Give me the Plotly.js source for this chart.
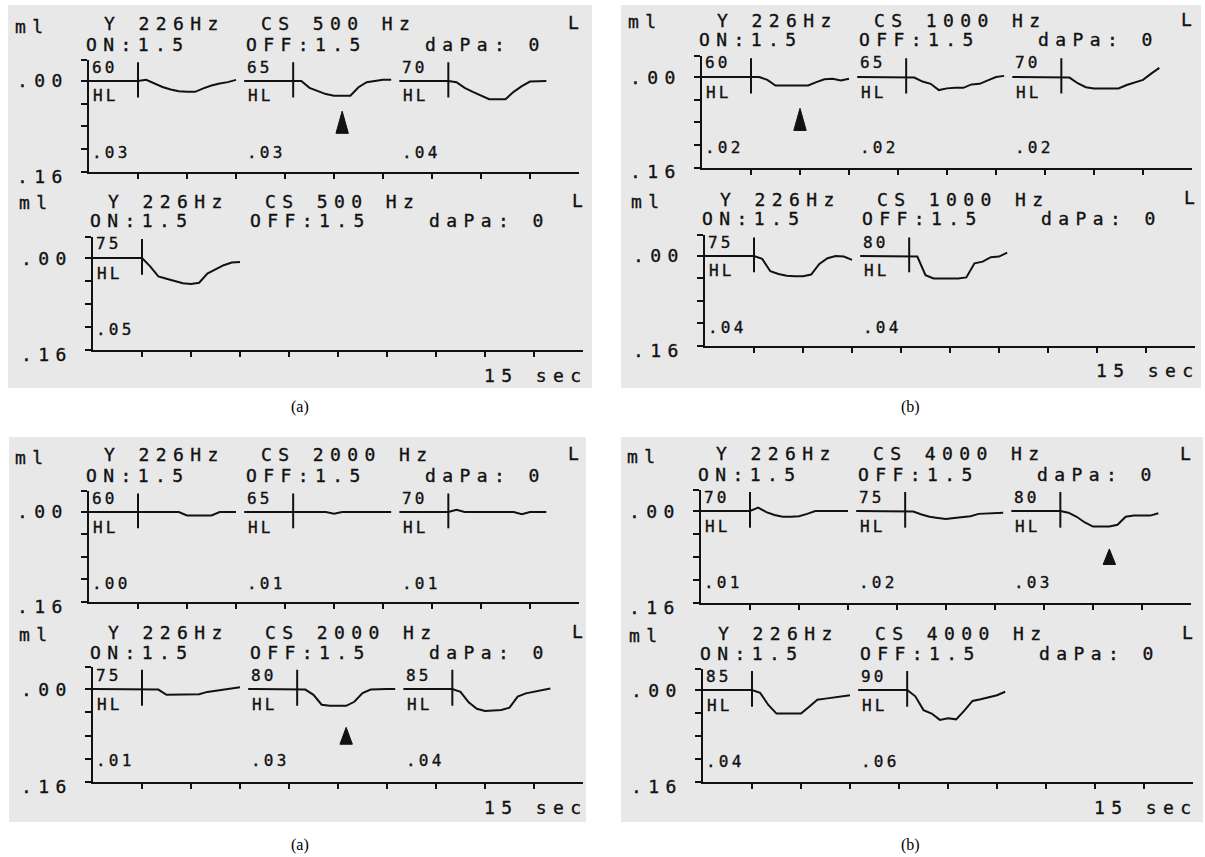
<!DOCTYPE html>
<html><head><meta charset="utf-8">
<script src="https://cdn.plot.ly/plotly-3.0.1.min.js"></script>
<style>
html,body{margin:0;padding:0;background:#fff}
text.annotation-text[style*="Mono"][style*="font-size: 18px"]{letter-spacing:6.4px}
text.annotation-text[style*="Mono"][style*="font-size: 16px"]{letter-spacing:3.2px}
text.annotation-text[style*="Mono"]{stroke:#111;stroke-width:0.35px}
</style>
</head><body><div id="chart" style="width:1205px;height:857px"></div>
<script>
// ================= DATA =================
const tAfterOnset = [0, 0.25, 0.5, 0.75, 1.0, 1.25, 1.5, 1.75, 2.0, 2.25, 2.5, 2.75, 3.0]; // s after stimulus onset
const probeTone = '226Hz';
const onTime = 1.5, offTime = 1.5, pressure = 0, ear = 'L';
const csFreqs = [500, 1000, 2000, 4000];
const panelLabels = ['(a)', '(b)', '(a)', '(b)'];

const levelsUpper = [[60, 65, 70], [60, 65, 70], [60, 65, 70], [70, 75, 80]];
const levelsLower = [[75], [75, 80], [75, 80, 85], [85, 90]];
const peaksUpper = [['.03', '.03', '.04'], ['.02', '.02', '.02'], ['.00', '.01', '.01'], ['.01', '.02', '.03']];
const peaksLower = [['.05'], ['.04', '.04'], ['.01', '.03', '.04'], ['.04', '.06']];

// admittance change (ml, positive = downward deflection) sampled at tAfterOnset
const cs500_60 = [0, -0.002, 0.004, 0.0105, 0.015, 0.018, 0.019, 0.019, 0.013, 0.008, 0.0045, 0.002, -0.002];
const cs500_65 = [0, 0, 0.012, 0.017, 0.023, 0.026, 0.026, 0.026, 0.011, 0.002, 0, -0.002, -0.002];
const cs500_70 = [0, 0.002, 0.012, 0.019, 0.026, 0.032, 0.032, 0.032, 0.019, 0.009, 0.001, 0, 0];
const cs500_75 = [0, 0.0145, 0.032, 0.036, 0.040, 0.044, 0.045, 0.043, 0.027, 0.019, 0.0125, 0.008, 0.007];

const cs1000_60 = [0, 0, 0.005, 0.015, 0.015, 0.015, 0.015, 0.015, 0.009, 0.004, 0.003, 0.006, 0.003];
const cs1000_65 = [0, 0.001, 0.008, 0.012, 0.023, 0.020, 0.019, 0.019, 0.013, 0.012, 0.006, 0, -0.002];
const cs1000_70 = [0, 0.001, 0.011, 0.018, 0.020, 0.020, 0.020, 0.020, 0.014, 0.010, 0.005, -0.006, -0.016];
const cs1000_75 = [0, 0.005, 0.027, 0.032, 0.035, 0.036, 0.036, 0.033, 0.014, 0.004, 0, 0.001, 0.007];
const cs1000_80 = [0, 0.001, 0.034, 0.040, 0.040, 0.040, 0.040, 0.038, 0.013, 0.010, 0.002, 0.001, -0.006];

const cs2000_60 = [0, 0, 0, 0, 0, 0, 0.006, 0.006, 0.006, 0.006, 0, 0, 0];
const cs2000_65 = [0, 0, 0, 0, 0, 0.003, 0, 0, 0, 0, 0, 0, 0];
const cs2000_70 = [0, -0.004, 0, 0, 0, 0, 0, 0, 0, 0.004, 0, 0, 0];
const cs2000_75 = [0, 0, 0.001, 0.010, 0.010, 0.010, 0.010, 0.009, 0.005, 0.003, 0.001, -0.001, -0.003];
const cs2000_80 = [0, 0.001, 0.010, 0.027, 0.029, 0.029, 0.029, 0.022, 0.007, 0.001, 0, 0, 0];
const cs2000_85 = [0, 0.005, 0.023, 0.034, 0.038, 0.037, 0.036, 0.032, 0.013, 0.0075, 0.0046, 0.002, -0.001];

const cs4000_70 = [0, -0.006, 0.002, 0.007, 0.010, 0.010, 0.009, 0.005, 0, 0, 0, 0, 0];
const cs4000_75 = [0, 0.001, 0.006, 0.010, 0.012, 0.014, 0.012, 0.011, 0.009, 0.005, 0.004, 0.004, 0.003];
const cs4000_80 = [0, 0.003, 0.010, 0.020, 0.027, 0.027, 0.027, 0.024, 0.010, 0.008, 0.008, 0.008, 0.004];
const cs4000_85 = [0, 0.005, 0.026, 0.041, 0.041, 0.041, 0.041, 0.029, 0.017, 0.015, 0.013, 0.012, 0.009];
const cs4000_90 = [0, 0.011, 0.035, 0.041, 0.052, 0.049, 0.051, 0.036, 0.019, 0.016, 0.013, 0.009, 0.003];

const curvesUpper = [[cs500_60, cs500_65, cs500_70], [cs1000_60, cs1000_65, cs1000_70],
                     [cs2000_60, cs2000_65, cs2000_70], [cs4000_70, cs4000_75, cs4000_80]];
const curvesLower = [[cs500_75], [cs1000_75, cs1000_80], [cs2000_75, cs2000_80, cs2000_85], [cs4000_85, cs4000_90]];

// reflex-threshold arrow: [row, segment]
const thresholdRow = [0, 0, 1, 0];
const thresholdSeg = [1, 0, 1, 2];

const xTickVals = [1.5, 3, 4.5, 6, 7.5, 9, 10.5, 12, 13.5];
const yTickVals = [0, 0.04, 0.08, 0.12, 0.16];

// ================= LAYOUT / STYLE =================
const W = 1205, H = 857;
const X_MAX = 15, PX_PER_SEC = 490 / X_MAX;
const Y_TOP = -0.037, Y_BOT = 0.16;
const SEG_STEP = 4.75;
const MARK_TOP = -0.033, MARK_BOT = 0.029;
const ARROW_HALF = 0.19;
const arrowTip = [0.053, 0.055, 0.066, 0.066], arrowBase = [0.092, 0.094, 0.095, 0.093];
const INK = '#111111', PAPER = '#e8e8e8';
const MONO = 'DejaVu Sans Mono', BIG = 18, SMALL = 16;

const panelBox = [[8, 5, 592, 388], [621, 5, 1201, 388], [9, 437, 586, 822], [621, 437, 1203, 822]];
// [axis x px, zero-line y px, .16-line y px]
const subGeom = [[[89, 81, 172], [93, 258, 350]], [[702, 77, 168], [705, 256, 346]],
                 [[89, 512, 602], [93, 689, 782]], [[701, 511, 603], [703, 690, 782]]];
const labelPos = [[300, 407], [910, 407], [300, 845], [910, 845]];

const data = [], annotations = [], shapes = [];
const layout = {width: W, height: H, margin: {l: 0, r: 0, t: 0, b: 0}, paper_bgcolor: '#fff',
  plot_bgcolor: 'rgba(0,0,0,0)', showlegend: false, annotations, shapes, hovermode: false};

function txt(px, py, text, size) {
  annotations.push({xref: 'paper', yref: 'paper', x: (px - 2) / W, y: 1 - py / H, text: text,
    showarrow: false, xanchor: 'left', yanchor: 'middle', align: 'left',
    font: {family: MONO, size: size, color: INK}});
}

panelBox.forEach(b => shapes.push({type: 'rect', xref: 'paper', yref: 'paper', layer: 'below',
  x0: b[0] / W, x1: b[2] / W, y0: 1 - b[3] / H, y1: 1 - b[1] / H, fillcolor: PAPER, line: {width: 0}}));

for (let p = 0; p < 4; p++) {
  for (let r = 0; r < 2; r++) {
    const n = p * 2 + r + 1;
    const [ax, zero, bot] = subGeom[p][r];
    const k = (bot - zero) / Y_BOT;
    const topPx = zero + Y_TOP * k;
    const xa = n === 1 ? 'xaxis' : 'xaxis' + n, ya = n === 1 ? 'yaxis' : 'yaxis' + n;
    const xr = n === 1 ? 'x' : 'x' + n, yr = n === 1 ? 'y' : 'y' + n;
    layout[xa] = {domain: [ax / W, (ax + X_MAX * PX_PER_SEC) / W], range: [0, X_MAX], anchor: yr,
      showline: true, linewidth: 2, linecolor: INK, ticks: 'outside', ticklen: 5, tickwidth: 2, tickcolor: INK,
      tickvals: xTickVals, showticklabels: false, showgrid: false, zeroline: false, fixedrange: true};
    layout[ya] = {domain: [1 - bot / H, 1 - topPx / H], range: [Y_BOT, Y_TOP], anchor: xr,
      showline: true, linewidth: 2, linecolor: INK, ticks: 'outside', ticklen: 6, tickwidth: 2, tickcolor: INK,
      tickvals: [Y_TOP].concat(yTickVals), showticklabels: false, showgrid: false, zeroline: false, fixedrange: true};

    const levels = r === 0 ? levelsUpper[p] : levelsLower[p];
    const peaks = r === 0 ? peaksUpper[p] : peaksLower[p];
    const curves = r === 0 ? curvesUpper[p] : curvesLower[p];
    levels.forEach((lev, i) => {
      const S = i * SEG_STEP, on = S + onTime;
      data.push({type: 'scatter', mode: 'lines', xaxis: xr, yaxis: yr,
        x: [S, on].concat(tAfterOnset.map(t => on + t)), y: [0, 0].concat(curves[i]),
        line: {color: INK, width: 2}, hoverinfo: 'skip'});
      data.push({type: 'scatter', mode: 'lines', xaxis: xr, yaxis: yr, x: [on, on], y: [MARK_TOP, MARK_BOT],
        line: {color: INK, width: 2}, hoverinfo: 'skip'});
      const sx = ax + S * PX_PER_SEC;
      txt(sx + 3, zero - 14, String(lev), SMALL);
      txt(sx + 3.5, zero + 15, 'HL', SMALL);
      txt(sx + 3, zero + 71, peaks[i], SMALL);
      if (thresholdRow[p] === r && thresholdSeg[p] === i) {
        const xa0 = on + onTime;
        data.push({type: 'scatter', mode: 'lines', xaxis: xr, yaxis: yr, fill: 'toself', fillcolor: INK,
          x: [xa0 - ARROW_HALF, xa0, xa0 + ARROW_HALF, xa0 - ARROW_HALF],
          y: [arrowBase[p], arrowTip[p], arrowBase[p], arrowBase[p]], line: {color: INK, width: 1}, hoverinfo: 'skip'});
      }
    });
    // header
    txt(ax - 74, zero - 55, 'ml', BIG);
    txt(ax + 15, zero - 57, 'Y ' + probeTone, BIG);
    txt(ax + 172, zero - 57, 'CS ' + csFreqs[p] + ' Hz', BIG);
    txt(ax + 479, zero - 58, ear, BIG);
    txt(ax - 3, zero - 37, 'ON:' + onTime.toFixed(1), BIG);
    txt(ax + 157, zero - 37, 'OFF:' + offTime.toFixed(1), BIG);
    txt(ax + 336, zero - 37, 'daPa: ' + pressure, BIG);
    txt(ax - 72, zero, '.00', BIG);
    txt(ax - 72, bot + 4, '.16', BIG);
    if (r === 1) txt(ax + 391, bot + 25, '15 sec', BIG);
  }
  annotations.push({xref: 'paper', yref: 'paper', x: labelPos[p][0] / W, y: 1 - labelPos[p][1] / H,
    text: panelLabels[p], showarrow: false, xanchor: 'center', yanchor: 'middle',
    font: {family: 'Liberation Serif', size: 16, color: '#000'}});
}

Plotly.newPlot('chart', data, layout, {staticPlot: true});
</script></body></html>
